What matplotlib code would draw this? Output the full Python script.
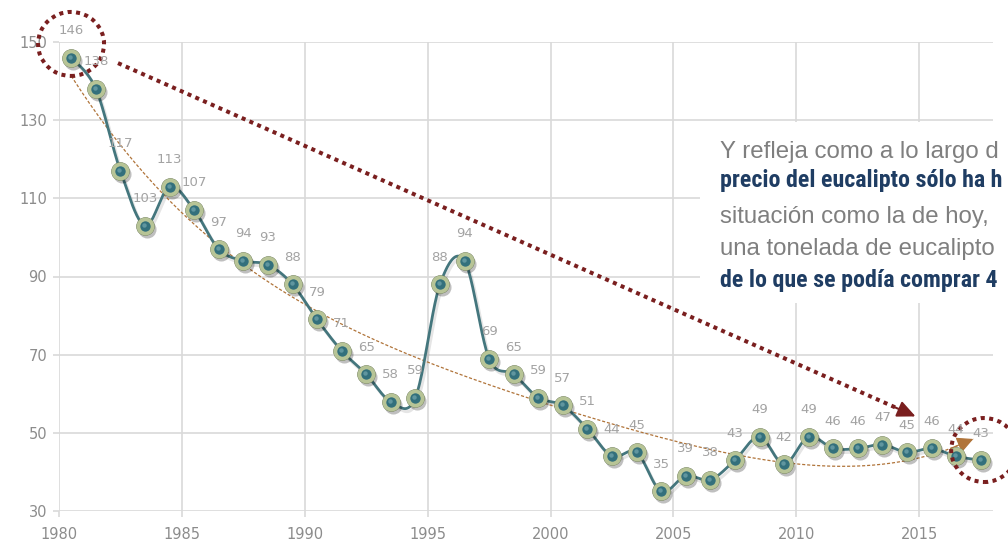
import numpy as np
import matplotlib
matplotlib.use("Agg")
import matplotlib.pyplot as plt
from matplotlib.patches import Ellipse, Rectangle
import matplotlib.transforms as mtransforms

# ---------------- data ----------------
years = [1980, 1981, 1982, 1983, 1984, 1985, 1986, 1987, 1988, 1989,
         1990, 1991, 1992, 1993, 1994, 1995, 1996, 1997, 1998, 1999,
         2000, 2001, 2002, 2003, 2004, 2005, 2006, 2007, 2008, 2009,
         2010, 2011, 2012, 2013, 2014, 2015, 2016, 2017]
values = [146, 138, 117, 103, 113, 107, 97, 94, 93, 88,
          79, 71, 65, 58, 59, 88, 94, 69, 65, 59,
          57, 51, 44, 45, 35, 39, 38, 43, 49, 42,
          49, 46, 46, 47, 45, 46, 44, 43]
x_ticks = [1980, 1985, 1990, 1995, 2000, 2005, 2010, 2015]
y_ticks = [30, 50, 70, 90, 110, 130, 150]

text_lines = [
    ("Y refleja como a lo largo d", False),
    ("precio del eucalipto sólo ha h", True),
    ("situación como la de hoy,", False),
    ("una tonelada de eucalipto", False),
    ("de lo que se podía comprar 4", True),
]

# ---------------- figure ----------------
W, H = 1008, 545
fig = plt.figure(figsize=(W / 100, H / 100), dpi=100)
ax = fig.add_axes([59 / W, 34 / H, 934 / W, 469 / H])
ax.set_xlim(1980, 2018)
ax.set_ylim(30, 150)

grid_c = "#d9d9d9"
ax.set_xticks(x_ticks)
ax.set_yticks(y_ticks)
ax.grid(True, color=grid_c, lw=1.2)
ax.set_axisbelow(True)
for s in ax.spines.values():
    s.set_visible(False)
ax.tick_params(axis="both", length=4.5, width=1.2, color=grid_c,
               labelcolor="#8c8c8c", labelsize=10.5)
ax.tick_params(axis="x", pad=7)
ax.tick_params(axis="y", pad=4)
for lab in ax.get_xticklabels() + ax.get_yticklabels():
    lab.set_family("DejaVu Sans")

# white text box covering grid
ax.add_patch(Rectangle((700 / W, 1 - 303 / H), 308 / W, 181 / H,
                       transform=fig.transFigure, facecolor="white",
                       edgecolor="none", zorder=1, clip_on=False))

xs = np.array(years, dtype=float) + 0.5
ys = np.array(values, dtype=float)

# Excel-like smoothed line (Bezier through the points)
def smooth(px, py, n=24):
    P = np.column_stack([px, py])
    out = []
    m = len(P)
    for i in range(m - 1):
        p0 = P[i - 1] if i > 0 else P[i]
        p1 = P[i]
        p2 = P[i + 1]
        p3 = P[i + 2] if i + 2 < m else P[i + 1]
        c1 = p1 + (p2 - p0) / 6.0
        c2 = p2 - (p3 - p1) / 6.0
        t = np.linspace(0, 1, n, endpoint=(i == m - 2))[:, None]
        seg = ((1 - t) ** 3) * p1 + 3 * ((1 - t) ** 2) * t * c1 + \
              3 * (1 - t) * t ** 2 * c2 + t ** 3 * p2
        out.append(seg)
    out = np.vstack(out)
    return out[:, 0], out[:, 1]

sx, sy = smooth(xs, ys)
shadow_tr = mtransforms.offset_copy(ax.transData, fig=fig, x=2, y=-3, units="dots")
ax.plot(sx, sy, color="#000000", lw=2.2, alpha=0.10, transform=shadow_tr,
        zorder=2, solid_capstyle="round")
ax.plot(sx, sy, color="#44767d", lw=2.0, zorder=3, solid_capstyle="round")

# trend line (4th-order polynomial fit of the series)
coef = np.polyfit(xs - 1999.0, ys, 4)
tx = np.linspace(xs[0], xs[-1] - 0.3, 200)
ty = np.polyval(coef, tx - 1999.0)
trend_c = "#b0743a"
ax.plot(tx, ty, color=trend_c, lw=0.9, dashes=(2.5, 1.5), zorder=2.5)
ax.annotate("", xy=(tx[-1], ty[-1]), xytext=(tx[-6], ty[-6]),
            arrowprops=dict(arrowstyle="-|>,head_length=1.0,head_width=0.5",
                            color=trend_c, lw=0.9, shrinkA=0, shrinkB=0),
            zorder=2.6, annotation_clip=False)

# markers: shadow, dark outline, light ring, teal core
ax.plot(xs, ys, "o", ms=13.0, mfc="#000000", mec="none", alpha=0.25,
        transform=mtransforms.offset_copy(ax.transData, fig=fig, x=2, y=-3, units="dots"),
        zorder=3.5, clip_on=False)
ax.plot(xs, ys, "o", ms=13.4, mfc="#6f7b5c", mec="none", zorder=4, clip_on=False)
ax.plot(xs, ys, "o", ms=10.2, mfc="#33707c", mec="#b7c496", mew=2.7,
        zorder=5, clip_on=False)
ax.plot(xs, ys, "o", ms=3.2, mfc="#7fb0b8", mec="none", alpha=0.6,
        transform=mtransforms.offset_copy(ax.transData, fig=fig, x=-1, y=1, units="dots"),
        zorder=5.5, clip_on=False)

# data labels
for x, v in zip(xs, values):
    ax.annotate(str(v), (x, v), xytext=(0, 19.5), textcoords="offset points",
                ha="center", va="center", fontsize=9.5, color="#a3a3a3",
                family="DejaVu Sans", zorder=7, annotation_clip=False)

# big dotted arrow
arrow_c = "#7a1f1f"
a0 = (1982.4, 144.6)
a1 = (2014.85, 54.2)
ax.plot([a0[0], a1[0] - 0.5], [a0[1], a1[1] + 1.4], color=arrow_c, lw=2.9,
        dashes=(1, 1.1), dash_capstyle="butt", zorder=6, clip_on=False)
ax.annotate("", xy=a1, xytext=(a1[0] - 0.9, a1[1] + 2.5),
            arrowprops=dict(arrowstyle="-|>,head_length=1.1,head_width=0.5",
                            color=arrow_c, lw=1.5, shrinkA=0, shrinkB=0),
            zorder=6, annotation_clip=False)

# dotted circles
for cx, cy in [(1980.49, 149.5), (2017.64, 45.6)]:
    ax.add_patch(Ellipse((cx, cy), 66 / 24.58, 64 / 3.908, facecolor="none",
                         edgecolor=arrow_c, lw=2.9, linestyle=(0, (1, 1.1)),
                         zorder=6, clip_on=False))

# annotation text
baselines = [158, 187, 223, 255, 287]
for (txt, bold), b in zip(text_lines, baselines):
    if bold:
        fig.text(720 / W, 1 - b / H, txt, ha="left", va="baseline",
                 fontsize=17.3, fontweight="bold", color="#1f3d63",
                 family=["Roboto Condensed", "DejaVu Sans"], zorder=8)
    else:
        fig.text(720 / W, 1 - b / H, txt, ha="left", va="baseline",
                 fontsize=17.3, color="#7f7f7f",
                 family=["Liberation Sans", "DejaVu Sans"], zorder=8)

fig.savefig("out.png", dpi=100)
